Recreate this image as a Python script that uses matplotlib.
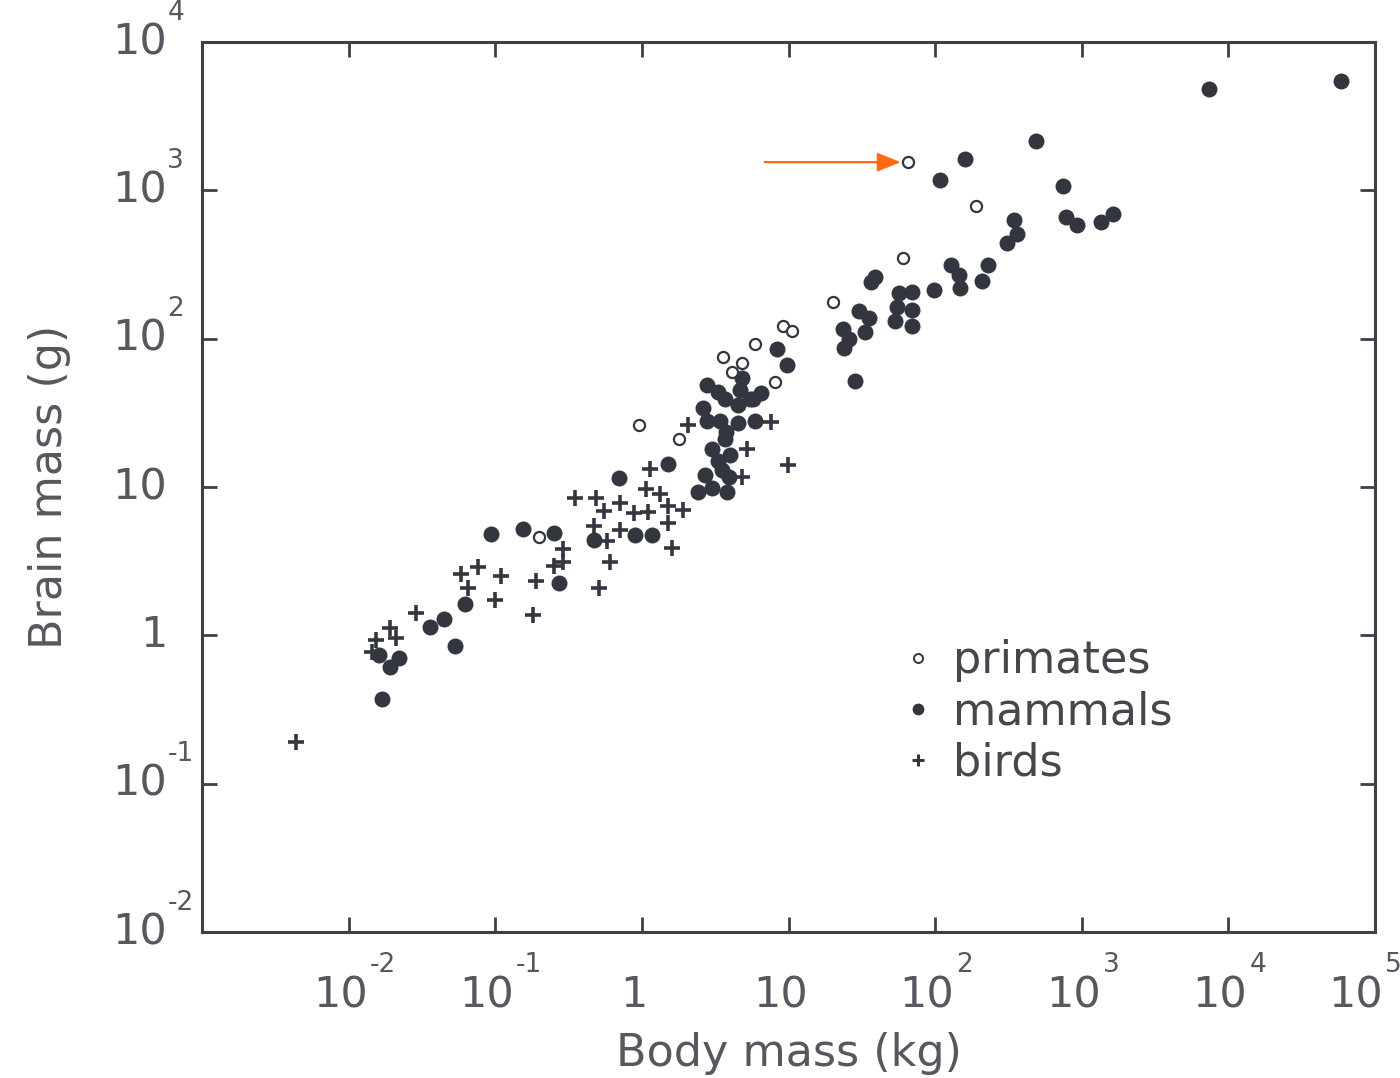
import matplotlib.pyplot as plt
from matplotlib.lines import Line2D
from matplotlib.transforms import blended_transform_factory

# brain mass (g) vs body mass (kg)
primate_body = [65, 190, 60, 20, 9.2, 10.6, 5.9, 3.6, 4.8, 4.1, 8.1, 0.96, 1.8, 0.2]
primate_brain = [1550, 790, 350, 177, 122, 113, 92, 75, 69, 60, 51, 26, 21, 4.6]

mammal_body = [59000, 7400, 490, 160, 108, 750, 780, 920, 1360, 1640,
               346, 363, 310, 129, 146, 148, 230, 209, 98, 39,
               36.6, 57, 70, 55, 70, 53, 69, 30, 35.5, 23.6,
               33, 26, 24, 28.5, 8.4, 9.8, 6.5, 5.7, 5.9, 2.8,
               3.3, 4.8, 4.7, 3.7, 4.5, 5.5, 2.6, 2.8, 3.4, 4.5,
               3.75, 3.7, 3.0, 4.0, 3.3, 3.5, 2.7, 3.9, 2.4, 3.0,
               3.8, 1.5, 0.7, 0.094, 0.155, 0.25, 0.47, 0.9, 1.17, 0.27,
               0.062, 0.036, 0.045, 0.053, 0.016, 0.019, 0.022, 0.017]
mammal_brain = [5500, 4800, 2160, 1630, 1180, 1070, 660, 585, 610, 695,
                632, 509, 443, 315, 269, 220, 315, 245, 213, 261,
                242, 204, 207, 164, 156, 132, 122, 154, 138, 116,
                111, 100, 87, 52, 85, 66, 43, 39, 28, 49,
                44, 54, 45, 39, 36, 39, 34, 28, 28, 27,
                23.5, 21, 18, 16.5, 15, 13, 12, 11.7, 9.3, 9.9,
                9.3, 14.3, 11.5, 4.8, 5.2, 4.9, 4.4, 4.75, 4.75, 2.26,
                1.63, 1.14, 1.29, 0.85, 0.74, 0.61, 0.7, 0.37]

bird_body = [0.0044, 0.0145, 0.0154, 0.019, 0.021, 0.029, 0.058, 0.076, 0.065, 0.11,
             0.10, 0.19, 0.18, 0.25, 0.29, 0.29, 0.51, 0.61, 0.35, 0.49,
             0.55, 0.71, 0.47, 0.58, 0.71, 0.89, 1.07, 1.1, 1.33, 1.5,
             1.9, 1.5, 1.6, 1.14, 2.07, 7.6, 5.2, 4.8, 9.9]
bird_brain = [0.19, 0.77, 0.93, 1.12, 0.96, 1.42, 2.6, 2.9, 2.1, 2.5,
              1.73, 2.33, 1.37, 2.94, 3.1, 3.8, 2.1, 3.1, 8.45, 8.45,
              6.9, 7.8, 5.5, 4.3, 5.1, 6.7, 9.7, 6.8, 9.0, 7.5,
              7.0, 5.7, 3.9, 13.2, 26, 27.5, 18, 11.7, 14.1]

x_ticks = [1e-2, 1e-1, 1, 10, 1e2, 1e3, 1e4, 1e5]
x_exps = ['-2', '-1', '', '', '2', '3', '4', '5']
x_plain = ['', '', '1', '10', '', '', '', '']
y_ticks = [1e-2, 1e-1, 1, 10, 1e2, 1e3, 1e4]
y_exps = ['-2', '-1', '', '', '2', '3', '4']
y_plain = ['', '', '1', '10', '', '', '']

ink = '#33363f'
grey = '#55585e'
spine = '#3c4049'

plt.rcParams['font.family'] = 'DejaVu Sans'

fig = plt.figure(figsize=(14, 10.78), dpi=100)
ax = fig.add_axes([0.1443, 0.1354, 0.8379, 0.8256])

ax.plot(mammal_body, mammal_brain, 'o', ms=11.5, color=ink, mew=0, zorder=3)
ax.plot(primate_body, primate_brain, 'o', ms=8, mfc='white', mec=ink, mew=1.6, zorder=4)
ax.plot(bird_body, bird_brain, '+', ms=11, color=ink, mew=2.6, zorder=5)

ax.set_xscale('log')
ax.set_yscale('log')
ax.set_xlim(1e-3, 1e5)
ax.set_ylim(1e-2, 1e4)

for s in ax.spines.values():
    s.set_color(spine)
    s.set_linewidth(2.2)

ax.minorticks_off()
ax.set_xticks(x_ticks[:-1])
ax.set_yticks(y_ticks[1:-1])
ax.tick_params(which='major', direction='in', length=11, width=2, color=spine,
               top=True, right=True, labelbottom=False, labelleft=False)

# tick labels written as 10 + raised exponent, like the original
bx = blended_transform_factory(ax.transData, ax.transAxes)
for i, (t, e, p) in enumerate(zip(x_ticks, x_exps, x_plain)):
    dx = -14 if i == len(x_ticks) - 1 else -6   # last one sits in the corner
    if p:
        ax.annotate(p, (t, 0), xycoords=bx, xytext=(dx, -54), textcoords='offset points',
                    ha='center', va='baseline', fontsize=31, color=grey)
    else:
        ax.annotate('10', (t, 0), xycoords=bx, xytext=(dx, -54), textcoords='offset points',
                    ha='center', va='baseline', fontsize=31, color=grey)
        ax.annotate(e, (t, 0), xycoords=bx, xytext=(dx + 21, -29), textcoords='offset points',
                    ha='left', va='baseline', fontsize=19, color=grey, annotation_clip=False)

by = blended_transform_factory(ax.transAxes, ax.transData)
for t, e, p in zip(y_ticks, y_exps, y_plain):
    if p:
        ax.annotate(p, (0, t), xycoords=by, xytext=(-25, 0), textcoords='offset points',
                    ha='right', va='center', fontsize=31, color=grey)
    else:
        ax.annotate('10', (0, t), xycoords=by, xytext=(-25, 0), textcoords='offset points',
                    ha='right', va='center', fontsize=31, color=grey)
        ax.annotate(e, (0, t), xycoords=by, xytext=(-25, 16), textcoords='offset points',
                    ha='left', va='baseline', fontsize=19, color=grey, annotation_clip=False)

ax.set_xlabel('Body mass (kg)', fontsize=32, color=grey, labelpad=72)
ax.set_ylabel('Brain mass (g)', fontsize=32, color=grey, labelpad=94)

handles = [
    Line2D([], [], ls='none', marker='o', ms=6.5, mfc='white', mec=ink, mew=1.4),
    Line2D([], [], ls='none', marker='o', ms=8.5, color=ink, mew=0),
    Line2D([], [], ls='none', marker='+', ms=8, color=ink, mew=2.2),
]
leg = ax.legend(handles, ['primates', 'mammals', 'birds'], loc='upper left',
                bbox_to_anchor=(0.5993, 0.329), frameon=False, fontsize=32,
                handlelength=0.6, handletextpad=0.48, labelspacing=0.18,
                borderpad=0, borderaxespad=0)
for txt in leg.get_texts():
    txt.set_color('#45474d')

# orange arrow pointing at the human data point
ax.annotate('', xy=(primate_body[0], primate_brain[0]), xytext=(-103, 0),
            textcoords='offset points',
            arrowprops=dict(arrowstyle='-|>,head_length=0.4,head_width=0.16',
                            color='#ff6a13', lw=1.6, shrinkA=0, shrinkB=5,
                            mutation_scale=36))

fig.savefig('out.png', dpi=100)
